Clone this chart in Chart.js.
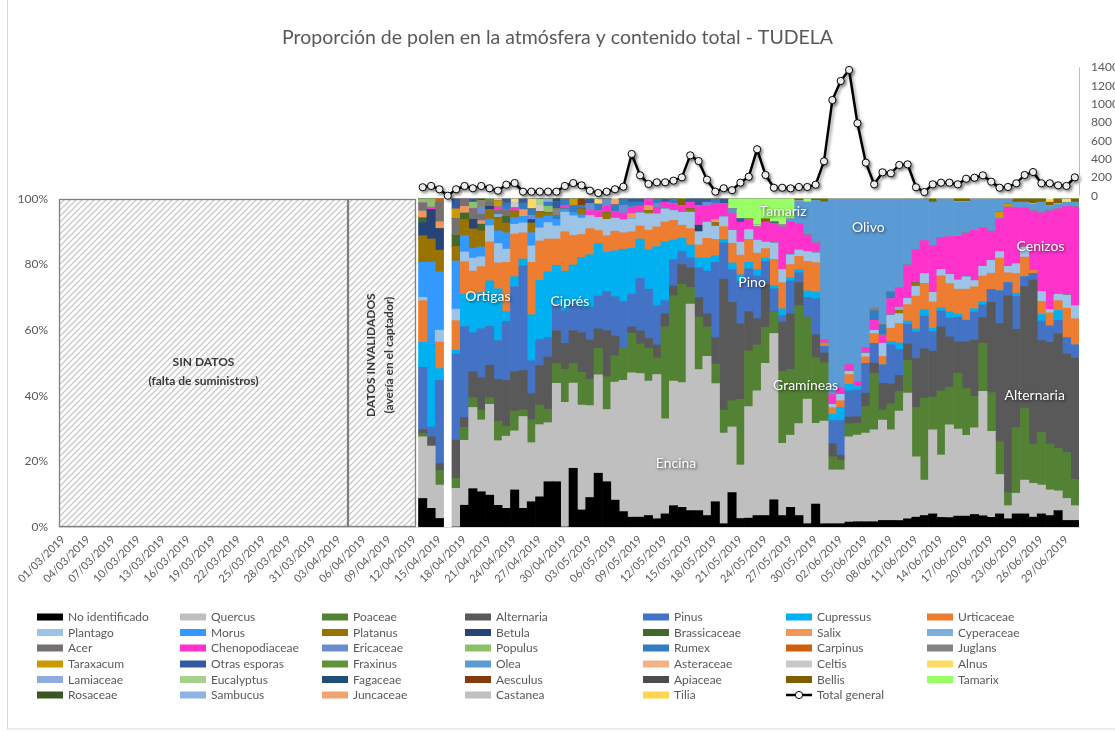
<!DOCTYPE html>
<html>
<head>
<meta charset="utf-8">
<script src="https://cdn.jsdelivr.net/npm/chart.js@4/dist/chart.umd.min.js"></script>
<style>
  html, body { margin: 0; padding: 0; background: #fff; }
  #wrap { position: relative; width: 1115px; height: 731px; }
</style>
</head>
<body>
<div id="wrap"><canvas id="grafico" width="1115" height="731"></canvas></div>
<script>
// Fechas del eje (01/03/2019 - 30/06/2019)
const fechas = [
  '01/03/2019','02/03/2019','03/03/2019','04/03/2019','05/03/2019','06/03/2019','07/03/2019','08/03/2019','09/03/2019','10/03/2019',
  '11/03/2019','12/03/2019','13/03/2019','14/03/2019','15/03/2019','16/03/2019','17/03/2019','18/03/2019','19/03/2019','20/03/2019',
  '21/03/2019','22/03/2019','23/03/2019','24/03/2019','25/03/2019','26/03/2019','27/03/2019','28/03/2019','29/03/2019','30/03/2019','31/03/2019',
  '01/04/2019','02/04/2019','03/04/2019','04/04/2019','05/04/2019','06/04/2019','07/04/2019','08/04/2019','09/04/2019','10/04/2019',
  '11/04/2019','12/04/2019','13/04/2019','14/04/2019','15/04/2019','16/04/2019','17/04/2019','18/04/2019','19/04/2019','20/04/2019',
  '21/04/2019','22/04/2019','23/04/2019','24/04/2019','25/04/2019','26/04/2019','27/04/2019','28/04/2019','29/04/2019','30/04/2019',
  '01/05/2019','02/05/2019','03/05/2019','04/05/2019','05/05/2019','06/05/2019','07/05/2019','08/05/2019','09/05/2019','10/05/2019',
  '11/05/2019','12/05/2019','13/05/2019','14/05/2019','15/05/2019','16/05/2019','17/05/2019','18/05/2019','19/05/2019','20/05/2019',
  '21/05/2019','22/05/2019','23/05/2019','24/05/2019','25/05/2019','26/05/2019','27/05/2019','28/05/2019','29/05/2019','30/05/2019','31/05/2019',
  '01/06/2019','02/06/2019','03/06/2019','04/06/2019','05/06/2019','06/06/2019','07/06/2019','08/06/2019','09/06/2019','10/06/2019',
  '11/06/2019','12/06/2019','13/06/2019','14/06/2019','15/06/2019','16/06/2019','17/06/2019','18/06/2019','19/06/2019','20/06/2019',
  '21/06/2019','22/06/2019','23/06/2019','24/06/2019','25/06/2019','26/06/2019','27/06/2019','28/06/2019','29/06/2019','30/06/2019'
];
// los datos empiezan el 13/04/2019 (posicion 43); antes no hay datos
const sinDatos = 43;

// % de cada taxon, 13/04 -> 30/06 (16/04 sin muestra)
const noIdentificado = [8.7,5.7,2.6,null,0,6.7,11.8,10.8,9.8,6.7, 5.7,11.3,5.7,7.7,9.2,13.8,13.8,0,17.9,5.2, 9,16.4,13.8,8.2,4.7,3,3,3.5,2.5,4, 6.5,6,5,5,3.5,7.7,1,10.5,2.6,2.7, 3.5,3.5,8.3,3.5,6,3.5,1,7,1,1, 1,1.5,1.6,1.6,1.6,2,2,2,2.5,3, 3.5,4,3,3,3.5,3.5,4,3.5,3,4, 2.5,4,4,3,4,3.5,5,2,2];
const quercus = [18.8,19,10.2,null,11.8,20,25,22,28,20, 22,18,28,18,22,18,30,38,26,32, 28,30,22,36,40,44,43.8,41,44,29, 38,38,63,43,48.5,36,27.6,20,16.3,34, 38,46.4,50.7,22,22,28,38,24.6,31.6,16.4, 16.4,26,26.4,27,28,30.6,27.6,33.7,38.3,18.4, 10.8,25.6,19.5,29.6,28,26,27.6,38.8,26.6,12, 4,6.3,10.3,10.3,8.8,7.8,6,6.7,4.5];
const poaceae = [1,0,4.5,null,3,4,3,3,2,6, 3,6,2,7,6,4,6,10,6,10, 8,8,10,8,10,12,9,10,5,28, 26,30,5,16,9,6,7,8,20,17, 14,11,6.6,22,20,36,25,20,18,4, 3,4,3.6,8.1,17.2,3.1,8,6,10,15, 25,10,20,12,18,15,10,15,12,10, 4,20,22,12,16,14,13,14,8];
const alternaria = [1.2,2.8,2,null,11.7,3,8,10,10,13, 14,12,12,8,12,16,10,8,10,12, 12,6,14,6,0,2,4,3,4,4, 3,6,6,6,4,8,40,30,23,12, 8,13,0,15,17,7,0,7,3,4, 1.5,2,2,4.1,3.2,8.1,6,5,5,15, 15,14,20,16,10,15,18,8,28,36, 60,30,37,50,28,31,35,30,37];
const pinus = [19,3,25.4,null,26.4,28,12,15,12,12, 18,26,32,10,8,6,8,10,8,8, 10,10,12,12,14,10,16,15,12,4, 8,4,3,9,13,23,11,10,13,13, 13,7,7,2,10,3,6,11,2,7, 10.6,8,8.2,9.1,6,5.6,12,8,6,8, 10,6,5,6,8,7,9,4,4,10, 4,10,3,2,6,5,4,5,4];
const cupressus = [7.6,25.4,3.6,null,1,10,12,11,14,16, 3,3,2,14,18,20,12,12,12,15, 16,16,12,14,16,14,12,12,18,18, 6,4,4,3,4,2,1,2,2,2, 2,1,1,2,1,1,2,2,0,2, 4,2,1,0,0,0,1,2,1,1, 2,1,1,2,1,0,1,1,0,0, 0,1,0,0,2,0,3,0,0];
const urticaceae = [12.7,0,8.1,null,9,10,7,8,12,8, 15,13,8,16,12,10,8,12,9,7, 8,4,5,6,5,5,4,6,6,6, 6,4,5,4,6,5,4,6,6,7, 5,3,8,8,4,4,9,9,1,2, 2,3,0,2,3,2.6,4,6,5,10, 8,8,10,9,8,10,7,8,5,10, 3,6,6,1,4,4,3,9,8];
const plantago = [1,0,3.6,null,3.5,3,4,3,5,6, 4,3,3,5,4,5,4,6,6,5, 4,4,5,4,4,4,4,5,4,4, 3,4,5,4,5,4,3,4,4,3, 4,2,5,4,3,2,3,3,0,1, 2,1,0,1.1,1,4,4,3,2,3, 3,3,2,3,3,4,2,3,4,2, 2,3,3,0,3,1,2,4,4];
const morus = [10.7,25,17.8,null,14.7,5,3,3,2,4, 5,2,2,4,3,2,2,1,1,1, 0,0,0,0,0,0,0,0,0,0, 0,0,0,0,0,0,0,0,0,0, 0,0,0,0,0,0,0,0,0,0, 0,0,0,0,0,0,0,0,0,0, 0,0,0,0,0,0,0,0,0,0, 0,0,0,0,0,0,0,0,0];
const platanus = [8.1,7,6.6,null,4.5,5,6,5,3,4, 3,2,0,3,2,1,0,0,0,1.8, 0,0,2,0,0,0,0,1,0,0, 0,0,1,0,0,1,0,0,0,0, 0,0,0,0,0,0,0,0,0,0, 0,0,0,0,0,0,0,1,0,1, 0,0,0,0,0,0,0,0,0,0, 0,0,0,0,0,0,0,0,0];
const betula = [4,9,6.6,null,0,0,3,0,1,0, 0,0,0,1,0,0,0,0,0,0, 0,0,0,0,0,0,0,0,0,0, 0,0,0,2,0,0,0,0,0,0, 0,0,0,0,0,0,0,0,0,0, 0,0,0,0,0,0,0,0,0,0, 0,0,0,0,0,0,0,0,0,0, 0,0,0,0,0,0,0,0,0];
const brassicaceae = [1.5,0,0,null,3.5,2,0,2,0,0, 2,0,0,0,0,0,0,0,0,0, 0,0,0,0,0,0,0,0,0,0, 0,0,0,0,0,0,0,0,0,0, 0,0,0,0,0,0,0,0,0,0, 0,0,0,0,0,0,0,0,0,0, 0,0,0,0,0,0,0,0,0,0, 0,0,0,0,0,0,0,0,0];
const salix = [2,0,2,null,0,2,0,1,0,0, 0,0,2,0,0,0,0,0,0,0, 0,0,0,0,0,1.5,0,1.5,0,0, 0,0,0,0,0,1,0,0,0,0, 0,0,0,0,0,0,0,0,0,0, 0,0,0,0,0,0,0,0,0,0, 0,0,0,0,0,0,0,0,0,0, 0,0,0,0,0,0,0,0,0];
const cyperaceae = [0,0,0,null,0,0,0,0,0,1, 0,0,0,0,0,0,0,0,0,0, 0,0,0,0,0,0,0,0,0,0, 0,0,0,0,0,0,0,0,0,0, 0,0,0,0,0,0,0,0,0,0, 0,0,0,0,0,0,0,1,0,0, 0,0,0,0,0,0,0,0,0,0, 0,0,0,0,0,0,0,0,0];
const acer = [2.5,0,6,null,5,2.3,3.2,2,1.2,1.3, 2,0,0,0,0,0,0,0,0,0, 0,0,0,0,0,0,0,0,0,0, 0,0,0,0,0,0,0,0,0,0, 0,0,0,0,0,0,0,0,0,0, 0,0,0,0,0,0,0,0,0,0, 0,0,0,0,0,0,0,0,0,0, 0,0,0,0,0,0,0,0,0];
const chenopodiaceae = [0,0.7,0,null,0,0,0,0,0,1, 0,1,0,0,0,0,0,1,0,0, 1.5,2,2,2,2,2,2,2,2,2, 2,2,2,6,5,5,4,5,6,3, 4,6,6,13,10,8,5,3,1,3, 2,2,1.5,1.5,3,2.5,5,6,10,10, 10,14,10,12,14,14,16,12,9,10, 18,17,12,18,24,30,26,27,30];
const ericaceae = [0,0,0,null,0,0,0,2.2,0,0, 0,0,0,1.3,0,0,0,0,0,0, 2,0,2.2,0,2.3,0,0,0,1,0, 0,0,0,0,1,0,0,1.5,0,0, 0,0,0,0.5,0,0,0,0,0,0, 0,0,0,0,0,0,0,0,0,0, 0,0,0,0,0,0,0,0,0,0, 0,0,0,0,0,0,0,0,0];
const populus = [1.2,2.5,0,null,0,0,2,0,0,0, 0,0,0,0,0,2,0,0,0,0, 0,0,0,0,0,0,0,0,0,0, 0,0,0,0,0,0,0,0,0,0, 0,0,0,0,0,0,0,0,0,0, 0,0,0,0,0,0,0,0,0,0, 0,0,0,0,0,0,0,0,0,0, 0,0,0,0,0,0,0,0,0];
const rumex = [0,0,0,null,0,0,0,0,0,0, 2,0,2,2,0,1.2,1.2,2,2.1,1, 0,2,0,2,2,1.5,1.2,0,1.5,0, 1.5,0,0,0,0,1.3,0,0,0,0, 0,0,0,0,0,0,0,0,0,0, 0,0,0,0,3,3.1,2,0,0,0, 0,0,0,0,0,0,0,0,0,0, 0,0,0,0,0,0,0,0,0];
const carpinus = [0,0,1,null,0,0,0,0,0,0, 0,0,0,0,0,0,0,0,0,0, 0,0,0,0,0,0,0,0,0,0, 0,0,0,0,0,0,0,0,0,0, 0,0,0,0,0,0,0,0,0,0, 0,0,0,0,0,0,0,0,0,0, 0,0,0,0,0,0,0,0,0,0, 0,0,0,0,0,0,0,0,0];
const juglans = [0,0,0,null,0,0,0,2,0,0, 0,0,0,0,0,0,2,0,0,0, 0,0,0,0,0,0,0,0,0,0, 0,0,0,0,0,0,0,0,0,0, 0,0,0,0,0,0,0,0,0,0, 0,0,0,0,0.7,0,0,0,0,0, 0,0,0,0,0,0,0,0,0,0, 0,0,0,0,0,0,0,0,0];
const taraxacum = [0,0,0,null,2.9,0,0,0,0,2, 0,0,0,0,0,0,0,0,2,0, 0,0,0,0,0,0,0,0,0,0, 0,0,0,0,0,0,0,0,0,0, 0,0,0,0,0,0,0,0,0,0, 0,0,0,0,0,0,0,0,0,0, 0,0,0,0,0,0,0,0,0,2, 1,0,0,0,0,0,0,0,0];
const otrasEsporas = [0,0,0,null,3,0,1,0,0,0, 1.3,0,1.3,0,0,0,2,0,0,0, 1.5,0,0,0,0,1,1,0,0,1, 0,0,1,2,1,0,1.4,0,1.1,0, 0,0,0.4,0,0,0,0,0,0,0, 0,0,0,0,0,0,0,0,0,0, 0,0,0,0,0,0,0,0,0,0, 0,0,0,0,0,0,0,0,0];
const fraxinus = [0,0,0,null,0,0,0,0,1,0, 0,0,0,0,0,0,0,0,0,0, 0,0,0,0,0,0,0,0,0,0, 0,0,0,0,0,0,0,0,0,0, 0,0,0,0,0,0,0,0,0,0, 0,0,0,0,0,0,0,0,0,0, 0,0,0,0,0,0,0,0,0,0, 0,0,0,0,0,0,0,0,0];
const olea = [0,0,0,null,0,0,0,0,0,0, 0,0,0,0,0,0,0,0,0,0, 0,0,0,0,0,0,0,0,0,0, 0,0,0,0,0,0,0,0,0,0, 0,0,0,0,1,7,10,13,42.4,59.6, 57.5,50.5,55.7,45.5,33.3,38.4,28.4,27.3,20.2,15.6, 12.7,13.4,12,12,11,10,10,9,10,4, 1.5,1.7,1.7,2.2,3.2,1.7,1.5,1.3,1.5];
const asteraceae = [0,0,0,null,0,0,0,0,0,0.5, 0,0,0,0,0,0,0,0,0,0, 0,0,0,0,0,0,0,0,0,0, 0,0,0,0,0,0,0,0,0,0, 0,0,0,0,0,0,0,0,0,0, 0,0,0,0,0,0,0,0,0,0, 0,0,0,0,0,0,0,0,0,0, 0,0,0,0,0,0,0,0,0];
const celtis = [0,0,0,null,0,0,0,0,0,0, 0,1.7,0,0,1.8,0,0,0,0,0, 0,0,0,0,0,0,0,0,0,0, 0,0,0,0,0,0,0,0,0,0, 0.5,0,0,0,0,0,0,0,0,0, 0,0,0,0,0,0,0,0,0,0, 0,0,0,0,0,0,0,0,0,0, 0,0,0,0,0,0,0,0,0];
const alnus = [0,0,0,null,0,0,0,0,0,0, 0,1,0,3,0,0,0,0,0,0, 0,1.6,0,0,0,0,0,0,0,0, 0,0,0,0,0,0,0,0,0,0, 0,0,0,0,0,0,0,0,0,0, 0,0,0,0,0,0,0,0,0,0, 0,0,0,0,0,0,0,0,0,0, 0,0,0,0,0,0,0,1,0];
const lamiaceae = [0,0,0,null,0,0,0,0,0,0, 0,0,0,0,0,1,0,0,0,0, 0,0,0,0,0,0,0,0,0,0, 0,0,0,0,0,0,0,0,0,0, 0,0,0,0,0,0,0,0,0,0, 0,0,0,0,0,0,0,0,0,0, 0,0,0,0,0,0,0,0,0,0, 0,0,0,0,0,0,0,0,0];
const eucalyptus = [0,0,0,null,0,0,0,0,0,0, 0,0,0,0,2,0,0,0,0,0, 0,0,0,0,0,0,0,0,0,0, 0,0,0,0,0,0,0,0,0,0, 0,0,0,0,0,0,0,0,0,0, 0,0,0,0,0,0,0,0,0,0, 0,0,0,0,0,0,0,0,0,0, 0,0,0,0,0,0,0,0,0];
const fagaceae = [0,0,0,null,0,0,0,0,0,0, 0,0,0,0,0,0,1,0,0,0, 0,0,0,0,0,0,0,0,0,0, 0,0,0,0,0,0,0,0,0,0, 0,0,0,0,0,0,0,0,0,0, 0,0,0,0,0,0,0,0,0,0, 0,0,0,0,0,0,0,0,0,0, 0,0,0,0,0,0,0,0,0];
const aesculus = [0,0,0,null,0,0,0,0,0,0, 0,0,0,0,0,0,0,0,0,2, 0,0,0,0,0,0,0,0,0,0, 0,0,0,0,0,0,0,0,0,0, 0,0,0,0,0,0,0,0,0,0, 0,0,0,0,0,0,0,0,0,0, 0,0,0,0,0,0,0,0,0,0, 0,0,0,0,0,0,0,0,0];
const apiaceae = [0,0,0,null,0,0,0,0.5,0,0, 0,0,0,0,0,0,0,0,0,0, 0,0,0,0,0,0,0,0,0,0, 0,0,0,0,0,0,0,0,0,0, 0,0,0,0,0,0,0,0,0,0, 0,0,0,0,0,0,0,0,0,0, 0,0,0,0,0,0,0,0,0,0, 0,0,0,0,0,0,0,0,0];
const bellis = [0,0,0,null,0,0,0,0,0,0, 0,0,0,0,0,0,0,0,0,0, 0,0,0,0,0,0,0,0,0,0, 0,2,0,0,0,0,0,0,0,0.3, 0,1.1,0,0,0,0.5,0,0.4,1,0, 0,0,0,0,0,0,0,0,0,0, 0,1,0,0,1,1,0,0,0,0, 0,1,1,1.5,1,1,1.5,0,1];
const tamarix = [0,0,0,null,0,0,0,0,0,0, 0,0,0,0,0,0,0,0,0,0, 0,0,0,0,0,0,0,0,0,0, 0,0,0,0,0,0,0,3,6,6, 8,6,7,8,6,0,1,0,0,0, 0,0,0,0,0,0,0,0,0,0, 0,0,0,0,0,0,0,0,0,0, 0,0,0,0,0,0,0,0,0];
const rosaceae = [0,0,0,null,0,0,0,0,0,0, 0,0,0,0,0,0,0,0,0,0, 0,0,0,0,0,0,0,0,0,0, 0,0,0,0,0,0,0,0,0,0, 0,0,0,0,0,0,0,0,0,0, 0,0,0,0,0,0,0,0,0,0, 0,0,0,0,0,0,0,0,0,0, 0,0,0,0,0,0,0,0,0];
const sambucus = [0,0,0,null,0,0,0,0,0,0, 0,0,0,0,0,0,0,0,0,0, 0,0,0,0,0,0,0,0,0,0, 0,0,0,0,0,0,0,0,0,0, 0,0,0,0,0,0,0,0,0,0, 0,0,0,0,0,0,0,0,0,0, 0,0,0,0,0,0,0,0,0,0, 0,0,0,0,0,0,0,0,0];
const juncaceae = [0,0,0,null,0,0,0,0,0,0, 0,0,0,0,0,0,0,0,0,0, 0,0,0,1.8,0,0,0,0,0,0, 0,0,0,0,0,0,0,0,0,0, 0,0,0,0,0,0,0,0,0,0, 0,0,0,0,0,0,0,0,0,0, 0,0,0,0,0,0,0,0,0,0, 0,0,0,0,0,0,0,0,0];
const castanea = [0,0,0,null,0,0,0,0,0,0, 0,0,0,0,0,0,0,0,0,0, 0,0,0,0,0,0,0,0,0,0, 0,0,0,0,0,0,0,0,0,0, 0,0,0,0,0,0,0,0,0,0, 0,0,0,0,0,0,0,0,0,0, 0,0,0,0,0,0,0,0,0,0, 0,0,0,0,0,0,0,0,0];
const tilia = [0,0,0,null,0,0,0,0,0,0, 0,0,0,0,0,0,0,0,0,0, 0,0,0,0,0,0,0,0,0,0, 0,0,0,0,0,0,0,0,0,0, 0,0,0,0,0,0,0,0,0,0, 0,0,0,0,0,0,0,0,0,0, 0,0,0,0,0,0,0,0,0,0, 0,0,0,0,0,1,0,0,0];

// contenido total (eje secundario)
const totalGeneral = [92,106,70,0,70,106,81,106,81,55, 120,138,44,44,44,44,44,106,138,113, 55,29,44,70,98,455,222,128,146,146, 164,200,440,378,175,44,81,60,142,207, 506,226,87,87,80,95,95,120,375,1043, 1251,1371,790,360,124,255,244,335,342,92, 40,124,142,142,124,185,196,222,153,87, 95,135,226,258,135,135,113,106,200];

const ticksPct = [0, 20, 40, 60, 80, 100];
const ticksTotal = [0, 200, 400, 600, 800, 1000, 1200, 1400];

const series = [
  ['No identificado', noIdentificado, '#000000'],
  ['Quercus', quercus, '#BFBFBF'],
  ['Poaceae', poaceae, '#548235'],
  ['Alternaria', alternaria, '#595959'],
  ['Pinus', pinus, '#4472C4'],
  ['Cupressus', cupressus, '#00B0F0'],
  ['Urticaceae', urticaceae, '#ED7D31'],
  ['Plantago', plantago, '#9DC3E6'],
  ['Morus', morus, '#3399FF'],
  ['Platanus', platanus, '#997300'],
  ['Betula', betula, '#264478'],
  ['Brassicaceae', brassicaceae, '#43682B'],
  ['Salix', salix, '#F1975A'],
  ['Cyperaceae', cyperaceae, '#7CAFDD'],
  ['Acer', acer, '#767171'],
  ['Chenopodiaceae', chenopodiaceae, '#FF33CC'],
  ['Ericaceae', ericaceae, '#698ED0'],
  ['Populus', populus, '#8CC168'],
  ['Rumex', rumex, '#327DC2'],
  ['Carpinus', carpinus, '#D0600E'],
  ['Juglans', juglans, '#848484'],
  ['Taraxacum', taraxacum, '#CC9900'],
  ['Otras esporas', otrasEsporas, '#335AA1'],
  ['Fraxinus', fraxinus, '#5F9239'],
  ['Olea', olea, '#5B9BD5'],
  ['Asteraceae', asteraceae, '#F4B183'],
  ['Celtis', celtis, '#C9C9C9'],
  ['Alnus', alnus, '#FFD966'],
  ['Lamiaceae', lamiaceae, '#8FAADC'],
  ['Eucalyptus', eucalyptus, '#A9D18E'],
  ['Fagaceae', fagaceae, '#1F4E79'],
  ['Aesculus', aesculus, '#843C0C'],
  ['Apiaceae', apiaceae, '#4D4D4D'],
  ['Bellis', bellis, '#7F6000'],
  ['Tamarix', tamarix, '#99FF66'],
  ['Rosaceae', rosaceae, '#385723'],
  ['Sambucus', sambucus, '#8FB4E3'],
  ['Juncaceae', juncaceae, '#F2A46F'],
  ['Castanea', castanea, '#C0C0C0'],
  ['Tilia', tilia, '#FFD54F']
];

// rotulos sobre el grafico: [texto, posicion en dias desde 01/03, %]
const rotulos = [
  ['Ortigas', 51.3, 70.4], ['Ciprés', 61.1, 68.9], ['Pino', 82.9, 74.4],
  ['Tamariz', 86.6, 96.3], ['Olivo', 96.8, 91.2], ['Cenizos', 117.4, 85.4],
  ['Gramíneas', 89.3, 43], ['Alternaria', 116.7, 40.2], ['Encina', 73.8, 19.5]
];
const cajas = [
  { desde: 0, hasta: 34.57, textos: ['SIN DATOS', '(falta de suministros)'], vertical: false },
  { desde: 34.57, hasta: 42.7, textos: ['DATOS INVALIDADOS', '(avería en el captador)'], vertical: true }
];

const FONT = 'Lato, "Liberation Sans", sans-serif';
Chart.defaults.font.family = FONT;
Chart.defaults.color = '#595959';

const pad = n => Array(n).fill(null);
// 100% apilado: cada dia se escala a su suma
const sumas = noIdentificado.map((_, i) =>
  series.reduce((s, d) => s + (d[1][i] || 0), 0));

const datasets = series.map(([nombre, valores, color]) => ({
  type: 'bar',
  label: nombre,
  data: pad(sinDatos).concat(valores.map((v, i) => v == null || !sumas[i] ? null : v / sumas[i] * 100)),
  backgroundColor: color,
  borderWidth: 0,
  barPercentage: 1,
  categoryPercentage: 1,
  yAxisID: 'y',
  order: 1
}));
datasets.push({
  type: 'line',
  label: 'Total general',
  data: pad(sinDatos).concat(totalGeneral),
  borderColor: '#000',
  borderWidth: 2.5,
  pointRadius: 3.6,
  pointBorderWidth: 1,
  pointBackgroundColor: '#fff',
  pointBorderColor: '#000',
  yAxisID: 'y2',
  order: 0
});

function hatchPattern(ctx) {
  const c = document.createElement('canvas');
  c.width = 6; c.height = 6;
  const g = c.getContext('2d');
  g.strokeStyle = '#c9c9c9';
  g.lineWidth = 1.3;
  g.beginPath();
  g.moveTo(-1, 7); g.lineTo(7, -1);
  g.moveTo(-1, 1); g.lineTo(1, -1);
  g.moveTo(5, 7); g.lineTo(7, 5);
  g.stroke();
  return ctx.createPattern(c, 'repeat');
}

const fondo = {
  id: 'fondo',
  beforeDraw(chart) {
    const ctx = chart.ctx;
    ctx.save();
    ctx.fillStyle = '#fff';
    ctx.fillRect(0, 0, chart.width, chart.height);
    ctx.strokeStyle = '#d9d9d9';
    ctx.lineWidth = 1;
    ctx.strokeRect(7.5, -1, chart.width + 5, 730);
    ctx.restore();
  },
  beforeDatasetsDraw(chart) {
    const { ctx, scales: { x, y } } = chart;
    const paso = (x.right - x.left) / fechas.length;
    const top = y.getPixelForValue(100), bottom = y.getPixelForValue(0);
    ctx.save();
    cajas.forEach(c => {
      const x0 = x.left + c.desde * paso, x1 = x.left + c.hasta * paso;
      ctx.fillStyle = hatchPattern(ctx);
      ctx.fillRect(x0, top, x1 - x0, bottom - top);
      ctx.strokeStyle = '#808080';
      ctx.lineWidth = 1.3;
      ctx.strokeRect(x0 + 0.5, top + 0.5, x1 - x0 - 1, bottom - top - 1);
      ctx.fillStyle = '#3a3a3a';
      ctx.font = 'bold 12px ' + FONT;
      ctx.textAlign = 'center';
      ctx.textBaseline = 'middle';
      const cx = (x0 + x1) / 2;
      if (!c.vertical) {
        const cy = y.getPixelForValue(47.4);
        ctx.fillText(c.textos[0], cx, cy - 9.5);
        ctx.fillText(c.textos[1], cx, cy + 9.5);
      } else {
        const cy = y.getPixelForValue(52.4);
        ctx.save();
        ctx.translate(cx - 2, cy);
        ctx.rotate(-Math.PI / 2);
        ctx.fillText(c.textos[0], 0, -9);
        ctx.fillText(c.textos[1], 0, 9);
        ctx.restore();
      }
    });
    ctx.restore();
  },
  beforeDatasetDraw(chart, args) {
    if (args.meta.type === 'line') {
      const ctx = chart.ctx;
      ctx.save();
      ctx.shadowColor = 'rgba(0,0,0,0.35)';
      ctx.shadowBlur = 3;
      ctx.shadowOffsetX = 2;
      ctx.shadowOffsetY = 2;
    }
  },
  afterDatasetDraw(chart, args) {
    if (args.meta.type === 'line') chart.ctx.restore();
  },
  afterDatasetsDraw(chart) {
    const { ctx, scales: { x, y, y2 } } = chart;
    const paso = (x.right - x.left) / fechas.length;
    ctx.save();
    // eje secundario
    ctx.strokeStyle = '#bfbfbf';
    ctx.lineWidth = 1;
    ctx.beginPath();
    ctx.moveTo(x.right + 0.5, y2.getPixelForValue(0));
    ctx.lineTo(x.right + 0.5, y2.getPixelForValue(1400));
    ctx.stroke();
    // rotulos
    ctx.font = '14px ' + FONT;
    ctx.textAlign = 'center';
    ctx.textBaseline = 'middle';
    ctx.fillStyle = '#fff';
    ctx.shadowColor = 'rgba(0,0,0,0.7)';
    ctx.shadowBlur = 3;
    ctx.shadowOffsetX = 1;
    ctx.shadowOffsetY = 1;
    rotulos.forEach(([t, u, p]) => ctx.fillText(t, x.left + u * paso, y.getPixelForValue(p)));
    ctx.restore();
  },
  afterDraw(chart) {
    // leyenda en 7 columnas
    const ctx = chart.ctx;
    const colX = [37, 180, 322, 465, 643, 786, 927];
    const filaY = [617, 632.5, 648, 664, 679.5, 695];
    ctx.save();
    ctx.font = '12px ' + FONT;
    ctx.textBaseline = 'middle';
    ctx.textAlign = 'left';
    chart.data.datasets.forEach((ds, k) => {
      const x0 = colX[k % 7], yy = filaY[Math.floor(k / 7)];
      if (ds.type === 'line') {
        ctx.strokeStyle = '#000';
        ctx.lineWidth = 2.5;
        ctx.beginPath(); ctx.moveTo(x0, yy); ctx.lineTo(x0 + 26, yy); ctx.stroke();
        ctx.fillStyle = '#fff';
        ctx.lineWidth = 1;
        ctx.beginPath(); ctx.arc(x0 + 13, yy, 3.6, 0, Math.PI * 2); ctx.fill(); ctx.stroke();
      } else {
        ctx.fillStyle = ds.backgroundColor;
        ctx.fillRect(x0, yy - 3.5, 26, 7);
      }
      ctx.fillStyle = '#595959';
      ctx.fillText(ds.label, x0 + 31, yy + 0.5);
    });
    ctx.restore();
  }
};

new Chart('grafico', {
  type: 'bar',
  data: { labels: fechas, datasets: datasets },
  options: {
    responsive: false,
    animation: false,
    layout: { padding: { top: 0, bottom: 134, left: 0, right: 0 } },
    plugins: {
      legend: { display: false },
      tooltip: { enabled: false },
      title: {
        display: true,
        text: 'Proporción de polen en la atmósfera y contenido total - TUDELA',
        color: '#595959',
        font: { size: 19.5, weight: 'normal', family: FONT },
        padding: { top: 25.7, bottom: 10.9 }
      }
    },
    scales: {
      x: {
        stacked: true,
        grid: { display: false, drawTicks: false },
        border: { display: true, color: '#d9d9d9' },
        ticks: {
          autoSkip: false, minRotation: 45, maxRotation: 45, padding: 6,
          font: { size: 11 },
          callback: function (v, i) { return i % 3 === 0 ? fechas[i] : ''; }
        },
        afterFit: s => { s.height = 70; }
      },
      y: {
        stacked: true, min: 0, max: 142.38,
        grid: { display: false, drawTicks: false },
        border: { display: false },
        ticks: { padding: 11, font: { size: 12 }, callback: v => v + '%' },
        afterBuildTicks: s => { s.ticks = ticksPct.map(v => ({ value: v })); },
        afterFit: s => { s.width = 59; }
      },
      y2: {
        position: 'right', min: -3612.5, max: 1479.6,
        grid: { display: false, drawTicks: false },
        border: { display: false },
        ticks: { padding: 12, font: { size: 12 }, callback: v => String(v) },
        afterBuildTicks: s => { s.ticks = ticksTotal.map(v => ({ value: v })); },
        afterFit: s => { s.width = 36; }
      }
    }
  },
  plugins: [fondo]
});
</script>
</body>
</html>
